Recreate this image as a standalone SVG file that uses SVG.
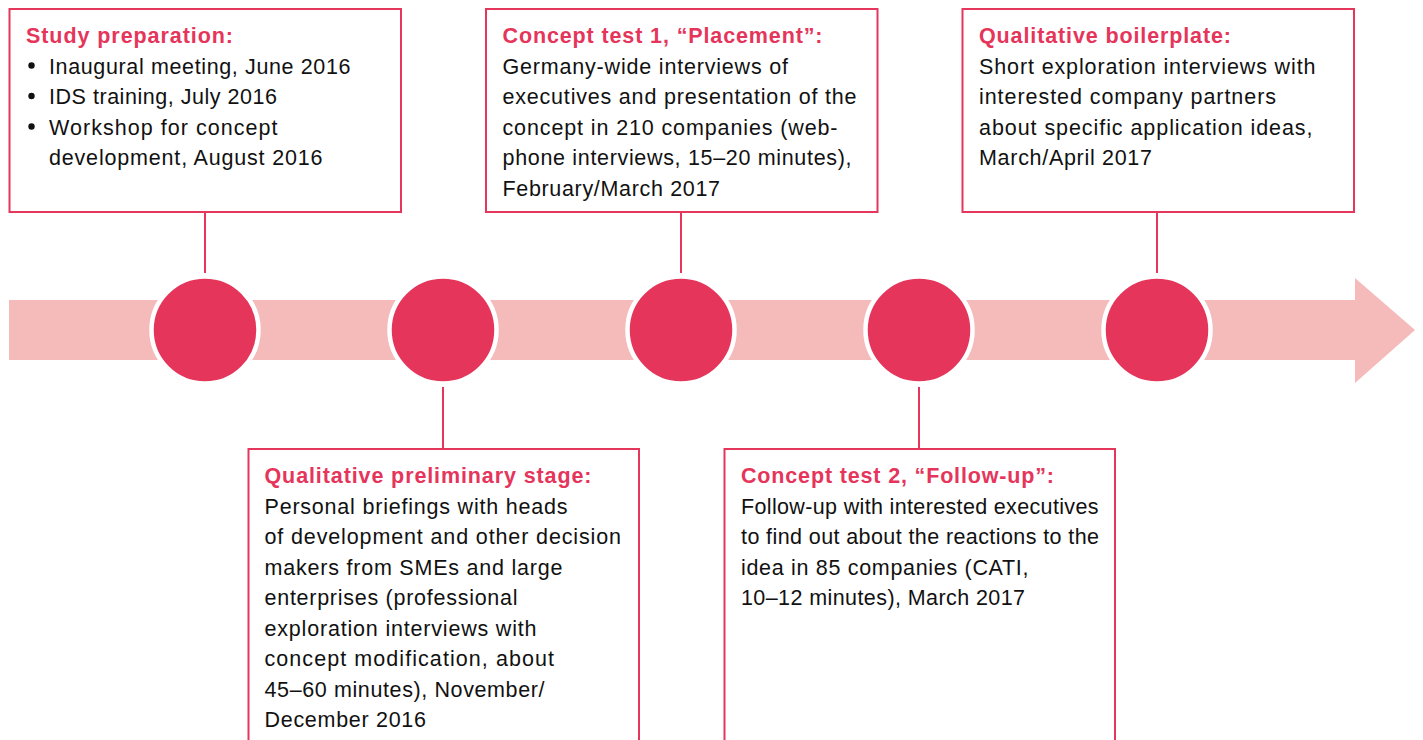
<svg xmlns="http://www.w3.org/2000/svg" width="1423" height="740" viewBox="0 0 1423 740">
<style>
.box{fill:#fff;stroke:#E5365C;stroke-width:2}
.con{stroke:#E5365C;stroke-width:2;fill:none}
.dot{fill:#E5355B;stroke:#fff;stroke-width:4.5}
.h{font-family:"Liberation Sans",Arial,sans-serif;font-weight:bold;font-size:21.5px;fill:#E5355B}
.t{font-family:"Liberation Sans",Arial,sans-serif;font-size:21.5px;fill:#111}
</style>
<rect width="1423" height="740" fill="#fff"/>
<g id="timeline">
<path d="M9 300 H1355 V278 L1415 330 L1355 383 V360 H9 Z" fill="#F5BBBA"/>
</g>
<g id="connectors">
<line class="con" x1="205" y1="212" x2="205" y2="273"/>
<line class="con" x1="681" y1="212" x2="681" y2="273"/>
<line class="con" x1="1157" y1="212" x2="1157" y2="273"/>
<line class="con" x1="443" y1="387" x2="443" y2="449"/>
<line class="con" x1="919" y1="387" x2="919" y2="449"/>
</g>
<g id="dots">
<circle class="dot" cx="205" cy="330" r="53.5"/>
<circle class="dot" cx="443" cy="330" r="53.5"/>
<circle class="dot" cx="681" cy="330" r="53.5"/>
<circle class="dot" cx="919" cy="330" r="53.5"/>
<circle class="dot" cx="1157" cy="330" r="53.5"/>
</g>
<g id="study-preparation">
<rect class="box" x="9.5" y="9" width="391.5" height="203"/>
<text class="h" x="26" y="43" textLength="207" lengthAdjust="spacing">Study preparation:</text>
<circle cx="31.5" cy="65.5" r="3.2" fill="#111"/>
<circle cx="31.5" cy="96" r="3.2" fill="#111"/>
<circle cx="31.5" cy="126.5" r="3.2" fill="#111"/>
<text class="t" x="49" y="73.5" textLength="301.5" lengthAdjust="spacing">Inaugural meeting, June 2016</text>
<text class="t" x="49" y="104" textLength="228" lengthAdjust="spacing">IDS training, July 2016</text>
<text class="t" x="49" y="134.5" textLength="228.5" lengthAdjust="spacing">Workshop for concept</text>
<text class="t" x="49" y="165" textLength="273.5" lengthAdjust="spacing">development, August 2016</text>
</g>
<g id="concept-test-1">
<rect class="box" x="486" y="9" width="391.5" height="203"/>
<text class="h" x="502.5" y="43" textLength="320" lengthAdjust="spacing">Concept test 1, “Placement”:</text>
<text class="t" x="502.5" y="73.5" textLength="285.5" lengthAdjust="spacing">Germany-wide interviews of</text>
<text class="t" x="502.5" y="104" textLength="354" lengthAdjust="spacing">executives and presentation of the</text>
<text class="t" x="502.5" y="134.5" textLength="335" lengthAdjust="spacing">concept in 210 companies (web-</text>
<text class="t" x="502.5" y="165" textLength="349" lengthAdjust="spacing">phone interviews, 15–20 minutes),</text>
<text class="t" x="502.5" y="195.5" textLength="217.5" lengthAdjust="spacing">February/March 2017</text>
</g>
<g id="qualitative-boilerplate">
<rect class="box" x="962.5" y="9" width="391.5" height="203"/>
<text class="h" x="979" y="43" textLength="252" lengthAdjust="spacing">Qualitative boilerplate:</text>
<text class="t" x="979" y="73.5" textLength="336.5" lengthAdjust="spacing">Short exploration interviews with</text>
<text class="t" x="979" y="104" textLength="297" lengthAdjust="spacing">interested company partners</text>
<text class="t" x="979" y="134.5" textLength="333.5" lengthAdjust="spacing">about specific application ideas,</text>
<text class="t" x="979" y="165" textLength="173" lengthAdjust="spacing">March/April 2017</text>
</g>
<g id="qualitative-preliminary-stage">
<rect class="box" x="248.5" y="449" width="390.5" height="300"/>
<text class="h" x="264.5" y="483" textLength="327" lengthAdjust="spacing">Qualitative preliminary stage:</text>
<text class="t" x="264.5" y="513.5" textLength="303" lengthAdjust="spacing">Personal briefings with heads</text>
<text class="t" x="264.5" y="544" textLength="356.5" lengthAdjust="spacing">of development and other decision</text>
<text class="t" x="264.5" y="574.5" textLength="298" lengthAdjust="spacing">makers from SMEs and large</text>
<text class="t" x="264.5" y="605" textLength="253" lengthAdjust="spacing">enterprises (professional</text>
<text class="t" x="264.5" y="635.5" textLength="272" lengthAdjust="spacing">exploration interviews with</text>
<text class="t" x="264.5" y="666" textLength="289.5" lengthAdjust="spacing">concept modification, about</text>
<text class="t" x="264.5" y="696.5" textLength="280" lengthAdjust="spacing">45–60 minutes), November/</text>
<text class="t" x="264.5" y="727" textLength="161.5" lengthAdjust="spacing">December 2016</text>
</g>
<g id="concept-test-2">
<rect class="box" x="724.5" y="449" width="390.5" height="300"/>
<text class="h" x="741" y="483" textLength="313" lengthAdjust="spacing">Concept test 2, “Follow-up”:</text>
<text class="t" x="741" y="513.5" textLength="357.5" lengthAdjust="spacing">Follow-up with interested executives</text>
<text class="t" x="741" y="544" textLength="358" lengthAdjust="spacing">to find out about the reactions to the</text>
<text class="t" x="741" y="574.5" textLength="287.5" lengthAdjust="spacing">idea in 85 companies (CATI,</text>
<text class="t" x="741" y="605" textLength="284" lengthAdjust="spacing">10–12 minutes), March 2017</text>
</g>
</svg>
